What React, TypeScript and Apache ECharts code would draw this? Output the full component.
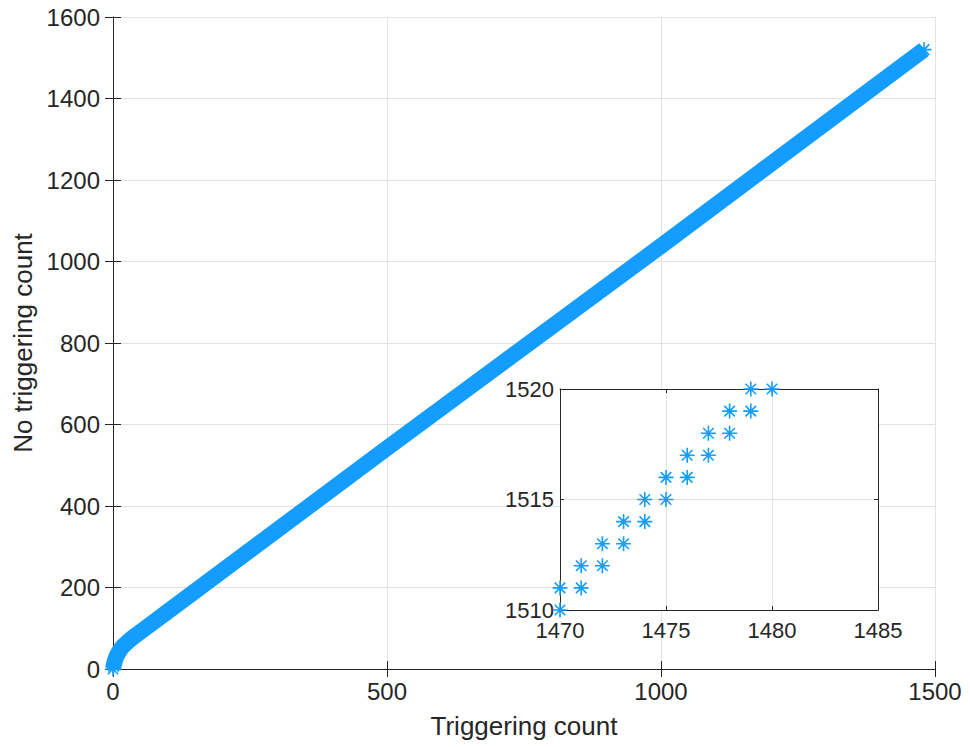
import React, { useEffect, useRef } from "react";
import * as echarts from "echarts";

// Main series: key points read along the thick band of markers
const mainX = [0, 1, 2, 4, 6, 9, 12, 15, 19, 23, 28, 34, 42, 58, 100, 500, 1000, 1480];
const mainY = [0, 7, 13, 22, 30, 38, 45, 51, 57, 62, 68, 75, 83, 99, 141, 542, 1038, 1520];

// Inset (zoomed) points
const insetX = [1470, 1470, 1471, 1471, 1472, 1472, 1473, 1473, 1474, 1474, 1475, 1475, 1476, 1476, 1477, 1477, 1478, 1478, 1479, 1479, 1480];
const insetY = [1510, 1511, 1511, 1512, 1512, 1513, 1513, 1514, 1514, 1515, 1515, 1516, 1516, 1517, 1517, 1518, 1518, 1519, 1519, 1520, 1520];

const xLabel = "Triggering count";
const yLabel = "No triggering count";

const BLUE = "#139DFF";
const AXIS = "#262626";
const GRIDC = "#E3E3E3";
const FONT = "Liberation Sans, Arial, Helvetica, sans-serif";
const STAR = "path://M10,0L10,20M0,10L20,10M3,3L17,17M3,17L17,3";

export default function App() {
  const ref = useRef<HTMLDivElement>(null);
  useEffect(() => {
    if (!ref.current) return;
    const chart = echarts.init(ref.current, null, { renderer: "svg" });
    const mainData = mainX.map((x, i) => [x, mainY[i]]);
    const insetData = insetX.map((x, i) => [x, insetY[i]]);
    const fmt = (v: number) => String(v);
    const lbl = { color: AXIS, fontFamily: FONT, fontSize: 24, formatter: fmt };
    const lblS = { color: AXIS, fontFamily: FONT, fontSize: 22, formatter: fmt };
    const axLine = { show: true, lineStyle: { color: AXIS, width: 1 } };
    const option: any = {
      animation: false,
      backgroundColor: "#fff",
      grid: [
        { left: 113, top: 17, width: 822, height: 652, show: false },
        { left: 560, top: 389, width: 318, height: 221, show: true, backgroundColor: "#fff", borderWidth: 0, z: 5 },
      ],
      xAxis: [
        {
          type: "value", gridIndex: 0, min: 0, max: 1500, interval: 500,
          name: xLabel, nameLocation: "middle", nameGap: 44,
          nameTextStyle: { color: AXIS, fontFamily: FONT, fontSize: 26 },
          axisLine: axLine, axisTick: { show: true, inside: true, length: 8, lineStyle: { color: AXIS } },
          axisLabel: { ...lbl, margin: 10 },
          splitLine: { show: true, lineStyle: { color: GRIDC, width: 1 } },
        },
        {
          type: "value", gridIndex: 0, position: "top", min: 0, max: 1500, interval: 500,
          axisLine: axLine, axisTick: { show: true, inside: true, length: 8, lineStyle: { color: AXIS } },
          axisLabel: { show: false }, splitLine: { show: false },
        },
        {
          type: "value", gridIndex: 1, min: 1470, max: 1485, interval: 5, z: 6,
          axisLine: axLine, axisTick: { show: true, inside: true, length: 4, lineStyle: { color: AXIS } },
          axisLabel: { ...lblS, margin: 9 },
          splitLine: { show: true, lineStyle: { color: GRIDC, width: 1 } },
        },
        {
          type: "value", gridIndex: 1, position: "top", min: 1470, max: 1485, interval: 5, z: 6,
          axisLine: axLine, axisTick: { show: true, inside: true, length: 4, lineStyle: { color: AXIS } },
          axisLabel: { show: false }, splitLine: { show: false },
        },
      ],
      yAxis: [
        {
          type: "value", gridIndex: 0, min: 0, max: 1600, interval: 200,
          name: yLabel, nameLocation: "middle", nameGap: 66,
          nameTextStyle: { color: AXIS, fontFamily: FONT, fontSize: 26 },
          axisLine: axLine, axisTick: { show: true, inside: true, length: 8, lineStyle: { color: AXIS } },
          axisLabel: { ...lbl, margin: 13 },
          splitLine: { show: true, lineStyle: { color: GRIDC, width: 1 } },
        },
        {
          type: "value", gridIndex: 0, position: "right", min: 0, max: 1600, interval: 200,
          axisLine: axLine, axisTick: { show: true, inside: true, length: 8, lineStyle: { color: AXIS } },
          axisLabel: { show: false }, splitLine: { show: false },
        },
        {
          type: "value", gridIndex: 1, min: 1510, max: 1520, interval: 5, z: 6,
          axisLine: axLine, axisTick: { show: true, inside: true, length: 4, lineStyle: { color: AXIS } },
          axisLabel: { ...lblS, margin: 6 },
          splitLine: { show: true, lineStyle: { color: GRIDC, width: 1 } },
        },
        {
          type: "value", gridIndex: 1, position: "right", min: 1510, max: 1520, interval: 5, z: 6,
          axisLine: axLine, axisTick: { show: true, inside: true, length: 4, lineStyle: { color: AXIS } },
          axisLabel: { show: false }, splitLine: { show: false },
        },
      ],
      series: [
        {
          type: "line", xAxisIndex: 0, yAxisIndex: 0, data: mainData,
          clip: false, smooth: false,
          lineStyle: { color: BLUE, width: 16, cap: "butt", join: "round" },
          symbol: STAR, symbolSize: 15, showSymbol: true, showAllSymbol: true,
          itemStyle: { color: "none", borderColor: BLUE, borderWidth: 1.6 },
          emphasis: { disabled: true }, z: 3,
        },
        {
          type: "scatter", xAxisIndex: 2, yAxisIndex: 2, data: insetData,
          symbol: STAR, symbolSize: 15, clip: false,
          itemStyle: { color: "none", borderColor: BLUE, borderWidth: 1.6, opacity: 1 },
          emphasis: { disabled: true }, z: 7,
        },
      ],
    };
    chart.setOption(option);
    return () => chart.dispose();
  }, []);
  return <div ref={ref} style={{ width: 970, height: 747, position: "absolute", left: 0, top: 0 }} />;
}
